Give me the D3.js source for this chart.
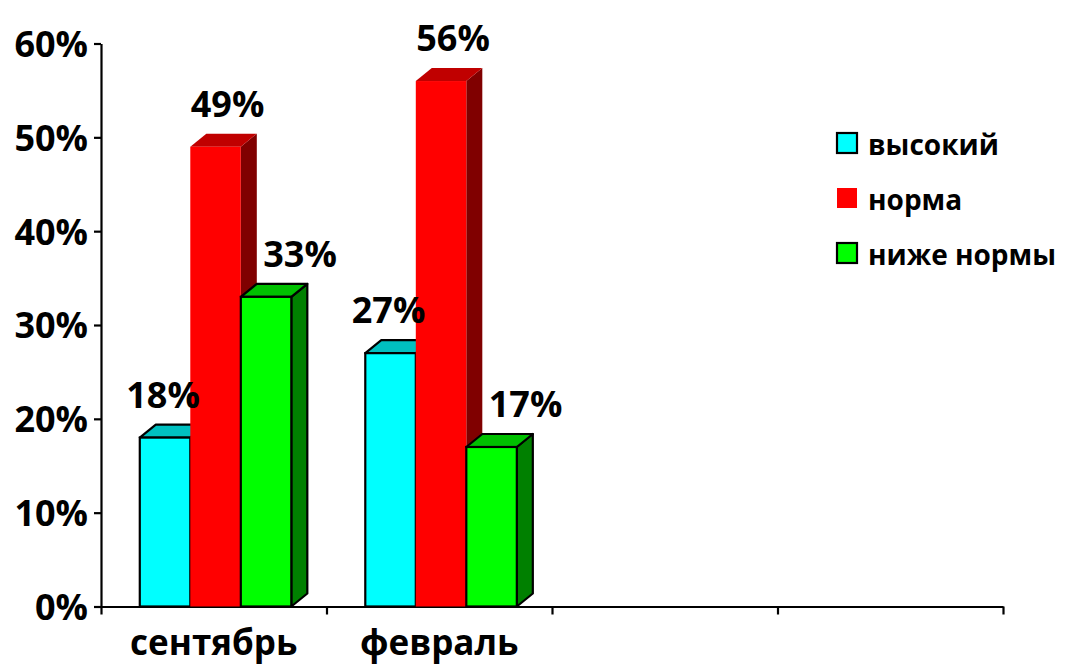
<!DOCTYPE html>
<html>
<head>
<meta charset="utf-8">
<script src="https://cdn.jsdelivr.net/npm/d3@7"></script>
<style>
  body { margin: 0; background: #fff; }
  svg { display: block; }
  text { font-family: "Open Sans", "Noto Sans", sans-serif; font-weight: 700; fill: #000; }
</style>
</head>
<body>
<div id="chart"></div>
<script>
// Chart data
var categories = ['сентябрь', 'февраль', '', ''];
var seriesNames = ['высокий', 'норма', 'ниже нормы'];
var vysokiy = [0.18, 0.27];
var norma = [0.49, 0.56];
var nizhe = [0.33, 0.17];
var yTicks = [0, 0.1, 0.2, 0.3, 0.4, 0.5, 0.6];

var W = 1071, H = 670;
var DX = 16, DY = -13;   // 3d depth of the bars

// front / top / side colours per series, and whether outlined
var styles = [
  { front: '#00ffff', top: '#00c0c0', side: '#008080', stroke: '#000' },
  { front: '#ff0000', top: '#c00000', side: '#800000', stroke: 'none' },
  { front: '#00ff00', top: '#00c000', side: '#008000', stroke: '#000' }
];
var labelNudge = [-10, 4, 26];

var svg = d3.select('#chart').append('svg').attr('width', W).attr('height', H);

var x = d3.scaleBand().domain(d3.range(categories.length)).range([101, 1003]).padding(0);
var xEdge = d3.scaleLinear().domain([0, categories.length]).range([101, 1003]);
var bw = x.bandwidth();
var xs = d3.scaleBand().domain(d3.range(seriesNames.length))
  .range([bw * 0.172, bw * 0.172 + bw * 0.672]).padding(0);
var y = d3.scaleLinear().domain([0, 0.6]).range([606.5, 43.5]);

// Axes
var yAxis = svg.append('g').attr('transform', 'translate(101,0)')
  .call(d3.axisLeft(y).tickValues(yTicks).tickFormat(d3.format('.0%'))
    .tickSize(7).tickSizeOuter(0).tickPadding(6));
yAxis.selectAll('text').style('font-size', '36px').attr('dy', '0.36em');

svg.append('g').attr('transform', 'translate(0,606.5)')
  .call(d3.axisBottom(xEdge).ticks(categories.length).tickFormat('')
    .tickSize(8).tickSizeOuter(0));
svg.selectAll('.domain, .tick line').attr('stroke', '#000').attr('stroke-width', 2.2);

svg.append('g').selectAll('text').data(categories).enter().append('text')
  .attr('x', function (d, i) { return x(i) + bw / 2; })
  .attr('y', 655)
  .attr('text-anchor', 'middle')
  .style('font-size', '35px')
  .text(function (d) { return d; });

// Bars
var series = [vysokiy, norma, nizhe];
var points = [];
categories.forEach(function (c, ci) {
  series.forEach(function (vals, si) {
    if (vals[ci] == null) return;
    points.push({ ci: ci, si: si, v: vals[ci] });
  });
});

var bars = svg.append('g').selectAll('g.bar').data(points).enter().append('g').attr('class', 'bar');
bars.each(function (p) {
  var g = d3.select(this);
  var st = styles[p.si];
  var x0 = x(p.ci) + xs(p.si), x1 = x0 + xs.bandwidth();
  var y0 = y(0), y1 = y(p.v);
  var sw = st.stroke === 'none' ? 0 : 2.2;
  g.append('path')
    .attr('d', 'M' + x1 + ',' + y1 + 'L' + (x1 + DX) + ',' + (y1 + DY) + 'L' + (x1 + DX) + ',' + (y0 + DY) + 'L' + x1 + ',' + y0 + 'Z')
    .attr('fill', st.side).attr('stroke', st.stroke).attr('stroke-width', sw).attr('stroke-linejoin', 'round');
  g.append('path')
    .attr('d', 'M' + x0 + ',' + y1 + 'L' + (x0 + DX) + ',' + (y1 + DY) + 'L' + (x1 + DX) + ',' + (y1 + DY) + 'L' + x1 + ',' + y1 + 'Z')
    .attr('fill', st.top).attr('stroke', st.stroke).attr('stroke-width', sw).attr('stroke-linejoin', 'round');
  g.append('rect')
    .attr('x', x0).attr('y', y1).attr('width', x1 - x0).attr('height', y0 - y1)
    .attr('fill', st.front).attr('stroke', st.stroke).attr('stroke-width', sw);
});

// Value labels
svg.append('g').selectAll('text').data(points).enter().append('text')
  .attr('x', function (p) { return x(p.ci) + xs(p.si) + xs.bandwidth() / 2 + DX / 2 + labelNudge[p.si]; })
  .attr('y', function (p) { return y(p.v) + DY - 17; })
  .attr('text-anchor', 'middle')
  .style('font-size', '36px')
  .text(function (p) { return d3.format('.0%')(p.v); });

// Legend
var legend = svg.append('g').selectAll('g').data(seriesNames).enter().append('g')
  .attr('transform', function (d, i) { return 'translate(837,' + (133 + i * 55) + ')'; });
legend.append('rect')
  .attr('width', 20).attr('height', 20)
  .attr('fill', function (d, i) { return styles[i].front; })
  .attr('stroke', function (d, i) { return styles[i].stroke; })
  .attr('stroke-width', function (d, i) { return styles[i].stroke === 'none' ? 0 : 2.2; });
legend.append('text')
  .attr('x', 31).attr('y', 22)
  .style('font-size', '28px')
  .text(function (d) { return d; });
</script>
</body>
</html>
